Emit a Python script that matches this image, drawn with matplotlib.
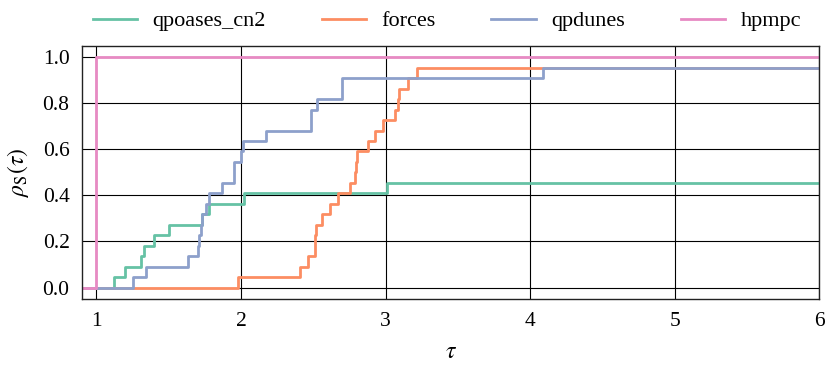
import matplotlib
matplotlib.use('Agg')
import matplotlib.pyplot as plt
import numpy as np

plt.rcParams['font.family'] = ['Liberation Serif', 'DejaVu Serif']
plt.rcParams['mathtext.fontset'] = 'stix'

n_problems = 22

# performance ratio at which each extra problem is solved, and the solved count after it
qpoases_tau = [1.12, 1.20, 1.31, 1.33, 1.40, 1.505, 1.73, 1.776, 2.017, 3.007]
qpoases_cnt = [1, 2, 3, 4, 5, 6, 7, 8, 9, 10]

forces_tau = [1.976, 2.41, 2.466, 2.508, 2.514, 2.52, 2.56, 2.613, 2.670, 2.754,
              2.788, 2.792, 2.80, 2.88, 2.927, 2.98, 3.065, 3.088, 3.095, 3.153, 3.22]
forces_cnt = [1, 2, 3, 4, 5, 6, 7, 8, 9, 10, 11, 12, 13, 14, 15, 16, 17, 18, 19, 20, 21]

qpdunes_tau = [1.251, 1.34, 1.632, 1.705, 1.712, 1.72, 1.73, 1.755, 1.78, 1.868,
               1.948, 2.0, 2.01, 2.174, 2.485, 2.524, 2.697, 4.09]
qpdunes_cnt = [1, 2, 3, 4, 5, 6, 7, 8, 9, 10, 12, 13, 14, 15, 17, 18, 20, 21]

hpmpc_tau = [1.0]
hpmpc_cnt = [22]

solvers = ['qpoases_cn2', 'forces', 'qpdunes', 'hpmpc']
taus = [qpoases_tau, forces_tau, qpdunes_tau, hpmpc_tau]
counts = [qpoases_cnt, forces_cnt, qpdunes_cnt, hpmpc_cnt]
colors = ['#66c2a5', '#fc8d62', '#8da0cb', '#e78ac3']

tau_lo, tau_hi = 0.9, 6.0

fig = plt.figure(figsize=(8.26, 3.66), dpi=100)
ax = fig.add_axes([0.0993, 0.183, 0.8927, 0.692])

for name, t, c, col in zip(solvers, taus, counts, colors):
    x = [tau_lo] + list(t) + [tau_hi]
    y = [0.0] + [k / n_problems for k in c] + [c[-1] / n_problems]
    ax.step(x, y, where='post', color=col, lw=2, label=name)

ax.set_xlim(tau_lo, tau_hi)
ax.set_ylim(-0.05, 1.05)
ax.set_xticks([1, 2, 3, 4, 5, 6])
ax.set_yticks([0.0, 0.2, 0.4, 0.6, 0.8, 1.0])
ax.grid(True, color='black', lw=0.8)
ax.set_axisbelow(True)
ax.tick_params(length=0, labelsize=15.5, pad=9)
for s in ax.spines.values():
    s.set_color('#222222')
    s.set_linewidth(1.0)

ax.set_xlabel(r'$\tau$', fontsize=17, labelpad=8)
ax.set_ylabel(r'$\rho_{\mathrm{S}}(\tau)$', fontsize=17, labelpad=8)

fig.legend(loc='upper center', bbox_to_anchor=(0.541, 1.025), ncol=4, frameon=False,
           fontsize=16, handlelength=2.0, handletextpad=0.7, columnspacing=2.5)

fig.savefig('out.png', dpi=100)
